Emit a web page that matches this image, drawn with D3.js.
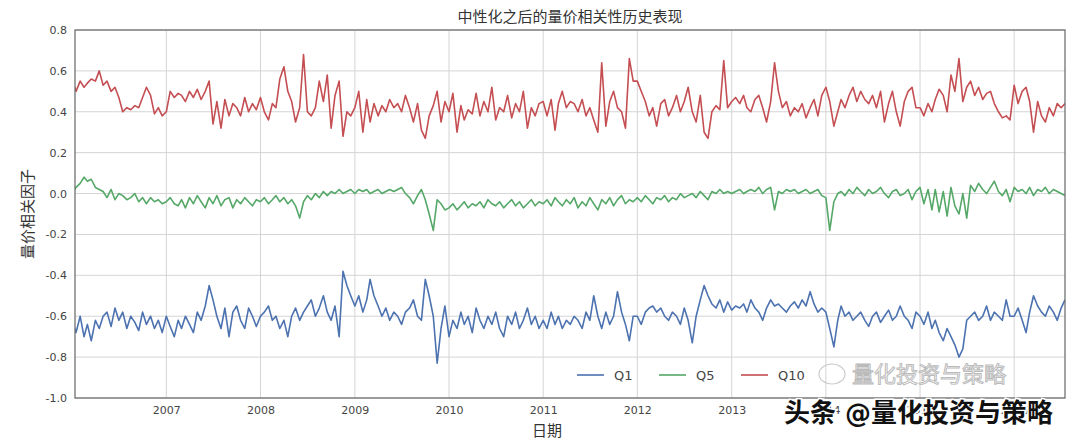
<!DOCTYPE html>
<html>
<head>
<meta charset="utf-8">
<script src="https://d3js.org/d3.v7.min.js"></script>
<style>
  body { margin: 0; background: #fff; }
  text { font-family: "DejaVu Sans", "Noto Sans CJK SC", sans-serif; }
</style>
</head>
<body>
<div id="cont"></div>
<script>
// two readings per month, one row per year (2016 ends in July)
var years = [2006, 2007, 2008, 2009, 2010, 2011, 2012, 2013, 2014, 2015, 2016];
var seriesNames = ["Q1", "Q5", "Q10"];
var colors = ["#4C72B0", "#55A868", "#C44E52"];
var yTicks = [0.8, 0.6, 0.4, 0.2, 0.0, -0.2, -0.4, -0.6, -0.8, -1.0];

var q1 = [
 [-.62,-.68,-.60,-.70,-.64,-.72,-.62,-.66,-.60,-.58,-.65,-.56,-.62,-.58,-.66,-.60,-.63,-.67,-.58,-.64,-.60,-.66,-.62,-.68],
 [-.60,-.65,-.70,-.62,-.66,-.60,-.64,-.68,-.58,-.62,-.55,-.45,-.52,-.60,-.66,-.56,-.70,-.58,-.55,-.62,-.66,-.56,-.60,-.65],
 [-.60,-.58,-.55,-.62,-.60,-.66,-.62,-.70,-.60,-.56,-.62,-.58,-.55,-.52,-.60,-.56,-.50,-.58,-.62,-.55,-.70,-.38,-.45,-.50],
 [-.55,-.50,-.58,-.52,-.42,-.50,-.55,-.60,-.56,-.62,-.58,-.60,-.64,-.58,-.56,-.52,-.60,-.62,-.42,-.50,-.60,-.83,-.66,-.55],
 [-.70,-.62,-.66,-.58,-.64,-.60,-.68,-.56,-.62,-.66,-.60,-.64,-.58,-.66,-.70,-.60,-.64,-.58,-.66,-.62,-.56,-.64,-.60,-.66],
 [-.62,-.66,-.58,-.64,-.60,-.66,-.62,-.64,-.60,-.62,-.66,-.58,-.62,-.50,-.60,-.66,-.58,-.64,-.60,-.48,-.58,-.64,-.72,-.60],
 [-.60,-.64,-.58,-.56,-.55,-.58,-.56,-.60,-.62,-.58,-.60,-.64,-.56,-.62,-.73,-.60,-.52,-.45,-.50,-.54,-.56,-.52,-.58,-.53],
 [-.57,-.55,-.56,-.54,-.58,-.52,-.56,-.58,-.62,-.56,-.52,-.55,-.54,-.56,-.58,-.55,-.53,-.56,-.52,-.55,-.48,-.54,-.58,-.56],
 [-.58,-.66,-.75,-.62,-.55,-.60,-.58,-.62,-.60,-.58,-.62,-.65,-.60,-.58,-.63,-.60,-.57,-.62,-.60,-.55,-.60,-.62,-.66,-.58],
 [-.60,-.64,-.58,-.66,-.62,-.68,-.72,-.66,-.70,-.74,-.80,-.76,-.62,-.60,-.58,-.62,-.60,-.55,-.62,-.58,-.60,-.62,-.52,-.60],
 [-.60,-.56,-.62,-.68,-.58,-.50,-.55,-.58,-.60,-.55,-.58,-.62,-.56,-.52]
];
var q5 = [
 [.00,.03,.05,.08,.06,.07,.03,.02,.01,-.02,.02,-.03,.00,-.01,-.03,-.02,.00,-.04,-.02,-.05,-.02,-.04,-.03,-.05],
 [-.04,-.02,-.05,-.06,-.03,-.07,-.02,-.05,-.01,-.04,-.07,-.02,-.05,-.01,-.06,-.03,-.02,-.07,-.03,-.05,-.02,-.04,-.06,-.03],
 [-.04,-.02,-.05,-.03,-.01,-.04,-.02,-.05,-.03,-.06,-.12,-.04,-.01,-.03,.00,-.02,.01,-.01,.01,.00,.02,.00,.01,.02],
 [.00,.02,.01,.02,.00,.01,.02,.00,.01,.02,.01,.02,.03,.00,-.02,-.05,-.01,.02,-.03,-.10,-.18,-.03,-.05,-.08],
 [-.07,-.05,-.08,-.06,-.04,-.07,-.05,-.06,-.04,-.07,-.03,-.05,-.06,-.04,-.07,-.05,-.03,-.06,-.04,-.07,-.05,-.03,-.06,-.04],
 [-.05,-.03,-.06,-.02,-.04,-.06,-.03,-.05,-.02,-.07,-.04,-.06,-.02,-.05,-.08,-.03,-.05,-.02,-.06,-.03,-.01,-.05,-.03,-.04],
 [-.02,-.04,-.01,-.03,-.05,-.02,-.03,-.01,-.04,-.02,-.03,.00,-.02,-.01,.00,-.02,.01,-.01,-.03,.01,.00,.02,.00,.01],
 [.00,.01,.02,.00,.01,.02,.01,.03,.00,.02,.03,-.08,.01,.00,.02,.01,.02,.00,.01,.02,.00,.01,.02,-.01],
 [-.02,-.18,-.04,.00,.01,-.01,.02,.00,.03,.01,-.01,.02,.00,.01,.03,.00,-.02,.01,.02,-.01,.00,.02,-.03,.01],
 [.03,-.05,.02,-.08,.02,-.09,.01,-.11,.03,-.06,-.10,.00,-.12,.04,.01,.05,.02,.00,.03,.06,.01,-.01,.02,-.04],
 [.03,.01,.02,.00,.03,-.01,.02,.01,.03,.00,.02,.01,.00,-.01]
];
var q10 = [
 [.56,.50,.55,.52,.54,.56,.55,.60,.53,.55,.50,.52,.47,.40,.42,.41,.43,.42,.47,.52,.48,.39,.42,.38],
 [.40,.50,.47,.49,.48,.45,.50,.47,.51,.46,.50,.55,.34,.45,.32,.46,.38,.44,.42,.38,.47,.40,.44,.41],
 [.47,.40,.36,.44,.42,.56,.62,.50,.45,.35,.42,.68,.40,.38,.42,.55,.45,.58,.32,.48,.55,.28,.40,.38],
 [.42,.50,.30,.46,.35,.44,.38,.43,.40,.46,.42,.44,.40,.48,.42,.35,.44,.31,.27,.38,.43,.50,.35,.45],
 [.40,.49,.30,.43,.36,.41,.39,.49,.38,.45,.40,.52,.36,.42,.40,.48,.37,.44,.40,.50,.32,.42,.38,.44],
 [.45,.38,.46,.31,.44,.50,.42,.45,.44,.40,.46,.38,.42,.36,.30,.64,.33,.45,.50,.42,.40,.32,.66,.55],
 [.55,.50,.45,.38,.42,.33,.44,.46,.38,.42,.48,.40,.45,.52,.40,.35,.48,.30,.27,.40,.43,.41,.65,.42],
 [.45,.47,.44,.48,.42,.40,.46,.48,.42,.35,.45,.64,.50,.42,.45,.38,.42,.40,.44,.37,.42,.46,.38,.48],
 [.52,.45,.33,.40,.46,.42,.48,.52,.45,.50,.46,.44,.48,.42,.50,.35,.44,.50,.40,.33,.45,.50,.52,.42],
 [.42,.38,.44,.40,.46,.51,.48,.40,.58,.50,.66,.45,.52,.55,.48,.52,.46,.49,.50,.44,.40,.37,.38,.36],
 [.53,.44,.50,.52,.45,.30,.45,.38,.35,.42,.38,.44,.42,.44]
];

function toPoints(rows) {
    var pts = [];
    rows.forEach(function(row, k) {
        row.forEach(function(v, i) {
            pts.push({date: new Date(years[k], Math.floor(i / 2), i % 2 ? 16 : 1), value: v});
        });
    });
    return pts;
}
var series = [q1, q5, q10].map(toPoints);

var W = 1080, H = 444;
var mLeft = 75, mRight = 1065, mTop = 30, mBottom = 398;

var svg = d3.select("#cont").append("svg")
    .attr("width", W)
    .attr("height", H);

var x = d3.scaleTime()
    .domain([new Date(2006, 0, 12), series[0][series[0].length - 1].date])
    .range([mLeft, mRight]);
var y = d3.scaleLinear().domain([-1.0, 0.8]).range([mBottom, mTop]);

// grid
svg.append("g").selectAll("line")
    .data(yTicks)
    .enter().append("line")
    .attr("x1", mLeft).attr("x2", mRight)
    .attr("y1", function(d) { return y(d); }).attr("y2", function(d) { return y(d); })
    .attr("stroke", "#d4d4d4").attr("stroke-width", 1);
svg.append("g").selectAll("line")
    .data(x.ticks(d3.timeYear.every(1)))
    .enter().append("line")
    .attr("y1", mTop).attr("y2", mBottom)
    .attr("x1", function(d) { return x(d); }).attr("x2", function(d) { return x(d); })
    .attr("stroke", "#d4d4d4").attr("stroke-width", 1);

// axes (labels only)
var yAxis = svg.append("g")
    .attr("transform", "translate(" + mLeft + ",0)")
    .call(d3.axisLeft(y).tickValues(yTicks).tickSize(0).tickPadding(8)
        .tickFormat(function(d) { return d3.format(".1f")(d).replace("\u2212", "-"); }));
var xAxis = svg.append("g")
    .attr("transform", "translate(0," + mBottom + ")")
    .call(d3.axisBottom(x).ticks(d3.timeYear.every(1)).tickSize(0).tickPadding(8)
        .tickFormat(d3.timeFormat("%Y")));
[yAxis, xAxis].forEach(function(a) {
    a.select(".domain").remove();
    a.selectAll("text").attr("fill", "#444").style("font-size", "11px");
});

// lines
var line = d3.line()
    .x(function(d) { return x(d.date); })
    .y(function(d) { return y(d.value); });
svg.append("defs").append("clipPath").attr("id", "clip")
    .append("rect").attr("x", mLeft).attr("y", mTop).attr("width", mRight - mLeft).attr("height", mBottom - mTop);
series.forEach(function(s, i) {
    svg.append("path")
        .datum(s)
        .attr("clip-path", "url(#clip)")
        .attr("fill", "none")
        .attr("stroke", colors[i])
        .attr("stroke-width", 1.6)
        .attr("stroke-linejoin", "round")
        .attr("d", line);
});

// frame
svg.append("rect")
    .attr("x", mLeft).attr("y", mTop).attr("width", mRight - mLeft).attr("height", mBottom - mTop)
    .attr("fill", "none").attr("stroke", "#666").attr("stroke-width", 1.2);

// legend
var leg = svg.append("g").attr("transform", "translate(577,375)");
var legX = [0, 82, 164];
seriesNames.forEach(function(n, i) {
    var g = leg.append("g").attr("transform", "translate(" + legX[i] + ",0)");
    g.append("line").attr("x1", 0).attr("x2", 27).attr("stroke", colors[i]).attr("stroke-width", 1.6);
    g.append("text").attr("x", 37).attr("y", 4.5).text(n)
        .style("font-size", "13px").attr("fill", "#444");
});

// titles
svg.append("text").attr("x", 570).attr("y", 22).attr("text-anchor", "middle")
    .style("font-size", "15px").attr("fill", "#333").text("中性化之后的量价相关性历史表现");
svg.append("text").attr("transform", "translate(33,214) rotate(-90)").attr("text-anchor", "middle")
    .style("font-size", "15px").attr("fill", "#333").text("量价相关因子");
svg.append("text").attr("x", 547).attr("y", 436).attr("text-anchor", "middle")
    .style("font-size", "15px").attr("fill", "#333").text("日期");

// watermarks
svg.append("ellipse").attr("cx", 832).attr("cy", 374).attr("rx", 13).attr("ry", 10)
    .attr("fill", "none").attr("stroke", "#ccc").attr("stroke-width", 1.2);
svg.append("text").attr("x", 852).attr("y", 382)
    .style("font-size", "22px").attr("fill", "#fff").attr("stroke", "#bbb").attr("stroke-width", 1)
    .text("量化投资与策略");
svg.append("text").attr("x", 784).attr("y", 422)
    .style("font-size", "26px").style("font-weight", "bold")
    .attr("fill", "#111").attr("stroke", "#fff").attr("stroke-width", 3)
    .attr("paint-order", "stroke").text("头条 @量化投资与策略");
</script>
</body>
</html>
